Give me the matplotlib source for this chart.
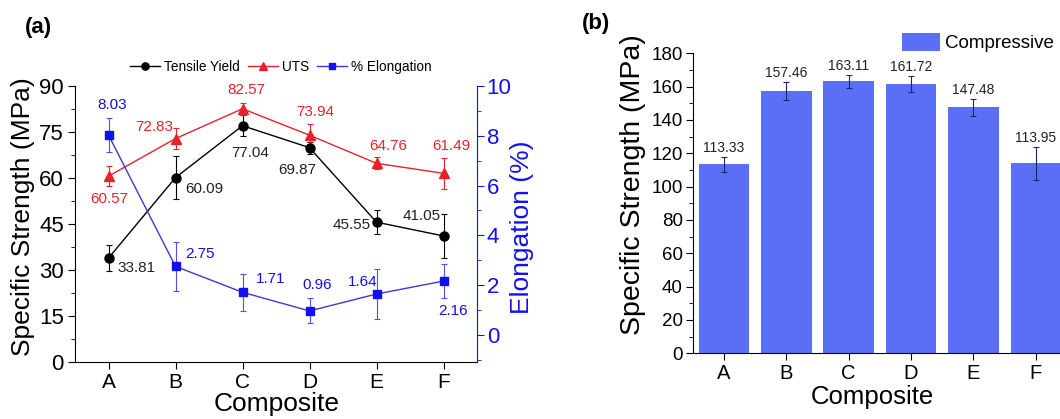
import matplotlib
matplotlib.use('Agg')
import matplotlib.pyplot as plt
import numpy as np
from matplotlib.ticker import MultipleLocator

plt.rcParams['font.family'] = ['Liberation Sans', 'DejaVu Sans']

# data
composites = ['A', 'B', 'C', 'D', 'E', 'F']
tensile_yield = [33.81, 60.09, 77.04, 69.87, 45.55, 41.05]
tensile_yield_err = [4.3, 7.0, 3.4, 2.0, 4.0, 7.2]
uts = [60.57, 72.83, 82.57, 73.94, 64.76, 61.49]
uts_err = [3.3, 3.5, 2.0, 3.5, 2.0, 5.0]
elongation = [8.03, 2.75, 1.71, 0.96, 1.64, 2.16]
elongation_err = [0.7, 1.0, 0.75, 0.5, 1.0, 0.67]
compressive = [113.33, 157.46, 163.11, 161.72, 147.48, 113.95]
compressive_err = [4.5, 5.2, 4.0, 4.8, 5.3, 9.7]

# label placement (pixel offsets, ha)
ty_lbl = [(9, -10, 'left'), (10, -11, 'left'), (8, -27, 'center'),
          (-12, -22, 'center'), (-6, -3, 'right'), (-3, 20, 'right')]
uts_lbl = [(1, -23, 'center'), (-21, 12, 'center'), (4, 19, 'center'),
           (6, 23, 'center'), (12, 17, 'center'), (8, 27, 'center')]
el_lbl = [(4, 30, 'center'), (10, 12, 'left'), (13, 13, 'left'),
          (8, 26, 'center'), (-14, 12, 'center'), (10, -30, 'center')]

RED = '#e8212b'
BLUE = '#1010f0'
BAR = '#5b6ff6'

W, H = 1060, 419
fig = plt.figure(figsize=(W / 100, H / 100), dpi=100)
x = np.arange(len(composites))

#### (a) ####
ax1 = fig.add_axes([75 / W, 1 - 361.7 / H, 402 / W, 275.7 / H])
ax2 = ax1.twinx()

e1 = ax1.errorbar(x, tensile_yield, yerr=tensile_yield_err, color='black', marker='o',
                  ms=6.5, lw=1, elinewidth=0.8, capsize=2.5, capthick=0.8)
e2 = ax1.errorbar(x, uts, yerr=uts_err, color=RED, marker='^', ms=7, lw=1,
                  elinewidth=0.8, capsize=2.5, capthick=0.8)
e3 = ax2.errorbar(x, elongation, yerr=elongation_err, color=BLUE, marker='s', ms=5.5,
                  lw=1, elinewidth=0.8, capsize=2.5, capthick=0.8, ecolor='#5050f0')
ax2.get_lines()[0].set_color('#3a3ad0')
ax2.get_lines()[0].set_markerfacecolor(BLUE)
ax2.get_lines()[0].set_markeredgecolor(BLUE)

for i in range(len(x)):
    dx, dy, ha = ty_lbl[i]
    ax1.annotate('%.2f' % tensile_yield[i], (x[i], tensile_yield[i]), xytext=(dx, dy),
                 textcoords='offset pixels', ha=ha, va='center', fontsize=11, color='#222222')
    dx, dy, ha = uts_lbl[i]
    ax1.annotate('%.2f' % uts[i], (x[i], uts[i]), xytext=(dx, dy),
                 textcoords='offset pixels', ha=ha, va='center', fontsize=11, color=RED)
    dx, dy, ha = el_lbl[i]
    ax2.annotate('%.2f' % elongation[i], (x[i], elongation[i]), xytext=(dx, dy),
                 textcoords='offset pixels', ha=ha, va='center', fontsize=11, color=BLUE)

ax1.set_xlim(-0.5, 5.5)
ax1.set_ylim(0, 90)
ax2.set_ylim(-1.08, 10)
ax1.set_xticks(x)
ax1.set_xticklabels(composites)
ax1.yaxis.set_major_locator(MultipleLocator(15))
ax1.yaxis.set_minor_locator(MultipleLocator(7.5))
ax2.yaxis.set_major_locator(MultipleLocator(2))
ax2.yaxis.set_minor_locator(MultipleLocator(1))
ax2.set_yticks([0, 2, 4, 6, 8, 10])

ax1.spines['top'].set_visible(False)
ax1.spines['right'].set_visible(False)
ax2.spines['top'].set_visible(False)
ax2.spines['left'].set_visible(False)
ax2.spines['bottom'].set_visible(False)
ax2.spines['right'].set_color(BLUE)
ax1.tick_params(axis='y', which='major', length=5, labelsize=16, pad=3)
ax1.tick_params(axis='y', which='minor', length=3)
ax1.tick_params(axis='x', length=5, labelsize=15, pad=3)
ax2.tick_params(axis='y', which='major', colors=BLUE, length=5, labelsize=16, pad=2)
ax2.tick_params(axis='y', which='minor', colors=BLUE, length=3)

ax1.set_ylabel('Specific Strength (MPa)', fontsize=19, va='center')
ax1.yaxis.set_label_coords((23 - 75) / 402, (361.7 - 216.5) / 275.7)
ax1.set_xlabel('Composite', fontsize=19, va='center')
ax1.xaxis.set_label_coords((276.7 - 75) / 402, (361.7 - 404) / 275.7)
ax2.set_ylabel('Elongation (%)', fontsize=19, color=BLUE, va='center')
ax2.yaxis.set_label_coords((522 - 75) / 402, (361.7 - 227) / 275.7)

ax1.legend([e1.lines[0], e2.lines[0], e3.lines[0]], ['Tensile Yield', 'UTS', '% Elongation'],
           loc='center', bbox_to_anchor=(281 / W, 1 - 67 / H), bbox_transform=fig.transFigure,
           ncol=3, frameon=False, fontsize=9.8, handlelength=2.2, handletextpad=0.3,
           columnspacing=0.6, borderpad=0, borderaxespad=0, markerscale=0.8)

fig.text(25 / W, 1 - 27 / H, '(a)', fontsize=16, fontweight='bold', va='center')

#### (b) ####
ax3 = fig.add_axes([692.7 / W, 1 - 353.3 / H, 374.3 / W, 300 / H])
bars = ax3.bar(x, compressive, width=0.81, color=BAR, label='Compressive',
               yerr=compressive_err,
               error_kw=dict(ecolor='#1c2470', elinewidth=0.8, capsize=2.5, capthick=0.8))
for i in range(len(x)):
    ax3.annotate('%.2f' % compressive[i], (x[i], compressive[i] + compressive_err[i]),
                 xytext=(0, 2), textcoords='offset pixels', ha='center', va='bottom',
                 fontsize=10, color='#222222')

ax3.set_xlim(-0.5, 5.5)
ax3.set_ylim(0, 180)
ax3.set_xticks(x)
ax3.set_xticklabels(composites)
ax3.yaxis.set_major_locator(MultipleLocator(20))
ax3.yaxis.set_minor_locator(MultipleLocator(10))
ax3.spines['top'].set_visible(False)
ax3.spines['right'].set_visible(False)
ax3.tick_params(axis='y', which='major', length=5, labelsize=13.5, pad=2)
ax3.tick_params(axis='y', which='minor', length=3)
ax3.tick_params(axis='x', length=5, labelsize=14.5, pad=3)
ax3.set_ylabel('Specific Strength (MPa)', fontsize=20.5, va='center')
ax3.yaxis.set_label_coords((633 - 692.7) / 374.3, (353.3 - 185) / 300)
ax3.set_xlabel('Composite', fontsize=18.5, va='center')
ax3.xaxis.set_label_coords((872 - 692.7) / 374.3, (353.3 - 397) / 300)

ax3.legend(loc='upper left', bbox_to_anchor=(902 / W, 1 - 33 / H), bbox_transform=fig.transFigure,
           frameon=False, fontsize=13.5, handlelength=2.0, handleheight=1.1,
           handletextpad=0.3, borderpad=0, borderaxespad=0)

fig.text(582 / W, 1 - 23 / H, '(b)', fontsize=16, fontweight='bold', va='center')

fig.savefig('out.png', dpi=100)
